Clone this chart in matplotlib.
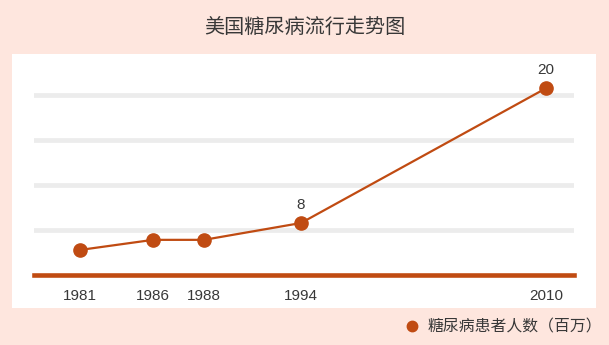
import matplotlib
matplotlib.use("Agg")
import matplotlib.pyplot as plt
from matplotlib.patches import Rectangle
from matplotlib.lines import Line2D
import numpy as np

# ---- data ----
years = [1981, 1986, 1988, 1994, 2010]
patients = [5.6, 6.5, 6.5, 8, 20]          # millions
labelled = {1994: "8", 2010: "20"}
title = "美国糖尿病流行走势图"
legend_label = "糖尿病患者人数（百万）"

# ---- layout: uneven spacing of the year axis (relative widths between ticks) ----
seg_widths = [73, 51, 97, 245]
edge_slope = 16.07   # width per year outside the data range

# ---- style ----
BG = "#FEE6DE"
ORANGE = "#C04B12"
GRID = "#ECECEC"
TXT = "#383838"
CJK = ["Noto Sans CJK SC", "DejaVu Sans"]
LAT = ["Liberation Sans", "DejaVu Sans"]

W, H = 609, 345
fig = plt.figure(figsize=(W / 100, H / 100), dpi=100, facecolor=BG)

# white panel
fig.patches.append(Rectangle((12 / W, (H - 308) / H), 584 / W, 254 / H,
                             transform=fig.transFigure, facecolor="white",
                             edgecolor="none", zorder=-5))

ax = fig.add_axes([34 / W, (H - 275) / H, 540 / W, 221 / H])
ax.set_zorder(1)
ax.set_facecolor("none")

# piecewise-linear year scale
cum = np.concatenate([[0.0], np.cumsum(seg_widths)])
ext = 200.0
yr_anchor = np.concatenate([[years[0] - ext], years, [years[-1] + ext]]).astype(float)
pos_anchor = np.concatenate([[-ext * edge_slope], cum, [cum[-1] + ext * edge_slope]])


def fwd(x):
    return np.interp(x, yr_anchor, pos_anchor)


def inv(p):
    return np.interp(p, pos_anchor, yr_anchor)


ax.set_xscale("function", functions=(fwd, inv))
ax.set_xlim(inv(-46.0), inv(cum[-1] + 28.0))
ax.set_ylim(3.37, 23.05)

for s in ["top", "right", "left"]:
    ax.spines[s].set_visible(False)
ax.spines["bottom"].set_color(ORANGE)
ax.spines["bottom"].set_linewidth(3.3)
ax.spines["bottom"].set_zorder(3)

ax.set_yticks(np.arange(7.4, 20, 4))
ax.yaxis.grid(True, color=GRID, linewidth=3.4)
ax.tick_params(axis="y", length=0, labelleft=False)
ax.set_axisbelow(True)

ax.set_xticks(years)
ax.set_xticklabels([str(y) for y in years])
ax.xaxis.set_minor_locator(matplotlib.ticker.NullLocator())
ax.tick_params(axis="x", length=0, pad=9.8, labelsize=11, labelcolor=TXT)
for lbl in ax.get_xticklabels():
    lbl.set_family(LAT)

ax.plot(years, patients, color=ORANGE, linewidth=1.6, marker="o",
        markersize=9.5, clip_on=False, zorder=4)

for x, y in zip(years, patients):
    if x in labelled:
        ax.annotate(labelled[x], (x, y), xytext=(0, 13.2), textcoords="offset points",
                    ha="center", va="center", fontsize=11, color=TXT, family=LAT)

fig.text(0.5, (H - 27) / H, title, ha="center", va="center",
         fontsize=14.5, color=TXT, family=CJK)

handle = Line2D([], [], linestyle="none", marker="o", markersize=7.5, color=ORANGE)
fig.legend([handle], [legend_label], loc="center left",
           bbox_to_anchor=(403.7 / W, (H - 327) / H), frameon=False,
           handlelength=1, handletextpad=0.5, borderpad=0, borderaxespad=0,
           prop={"family": CJK, "size": 11.4}, labelcolor=TXT)

fig.savefig("out.png", dpi=100, facecolor=BG)
